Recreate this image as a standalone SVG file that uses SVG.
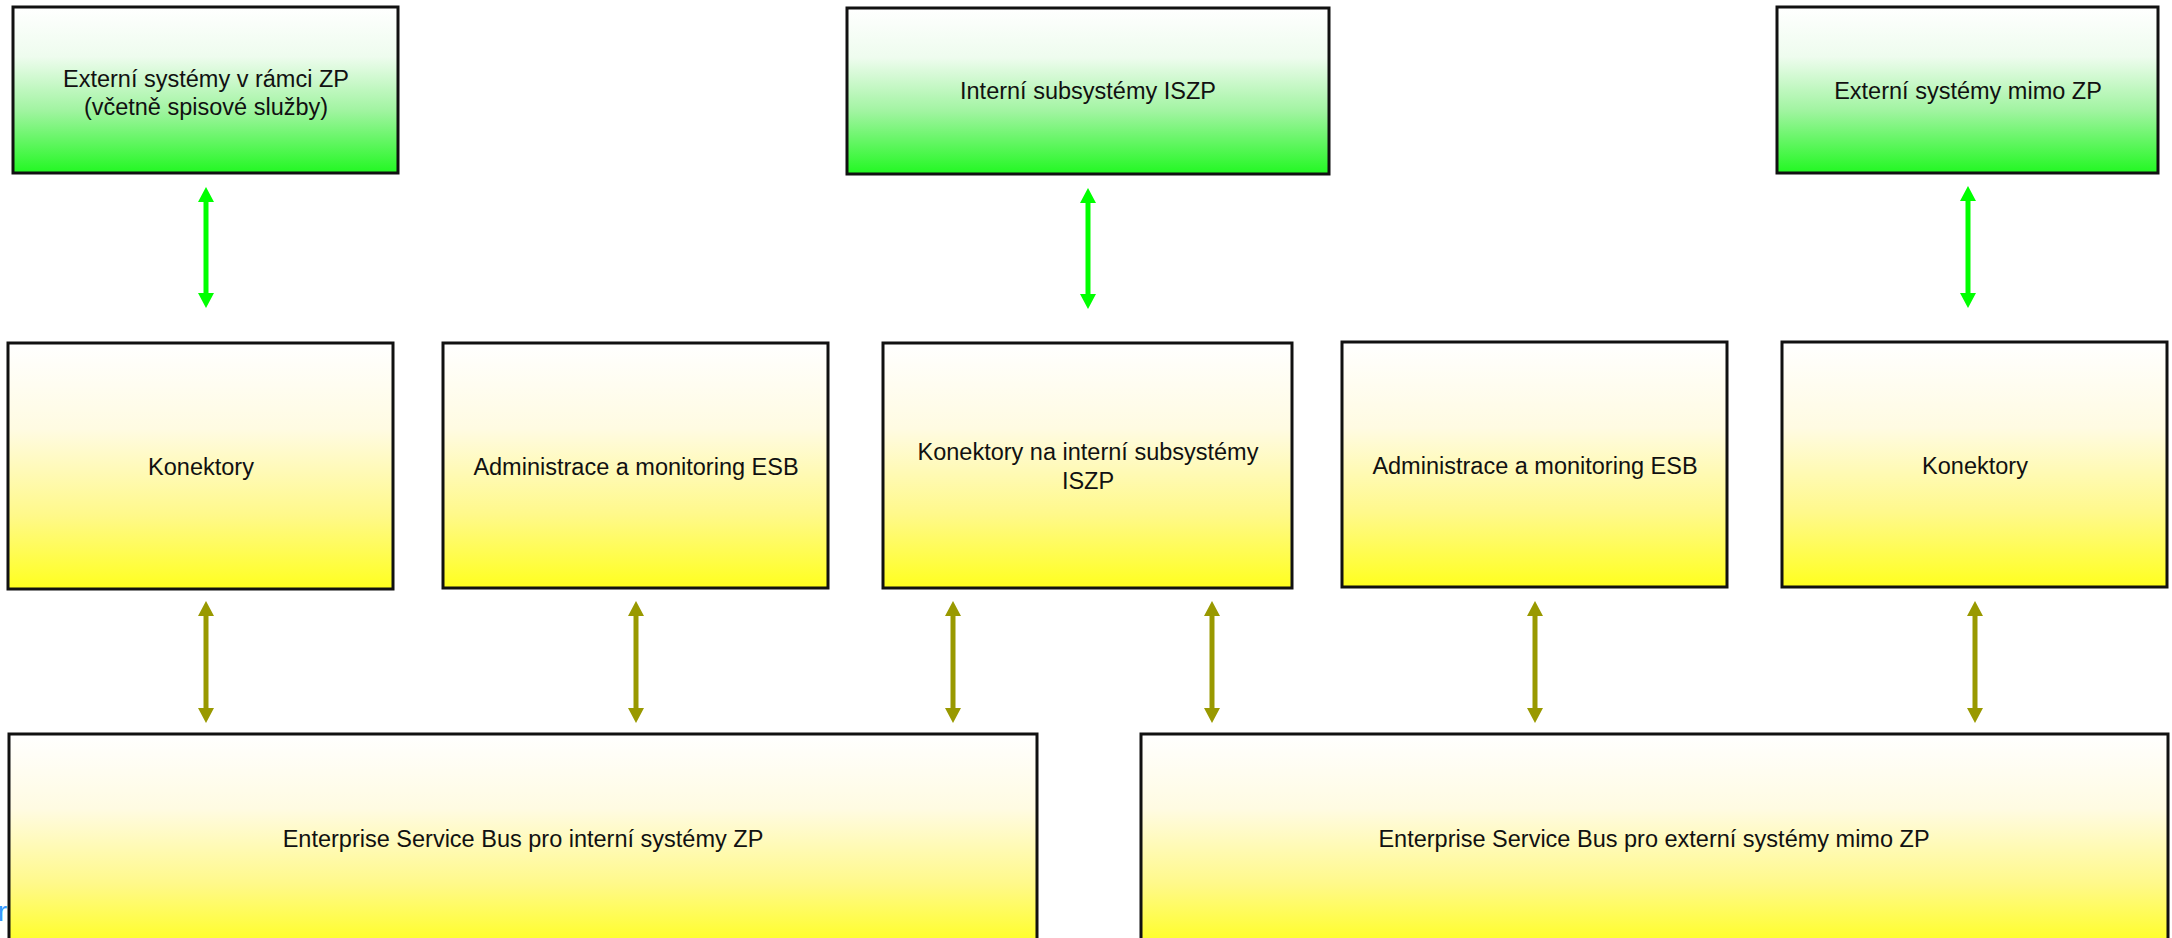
<svg xmlns="http://www.w3.org/2000/svg" width="2172" height="938" viewBox="0 0 2172 938">
<style>
  .box { stroke: #111; stroke-width: 3; }
  .g { fill: url(#gradGreen); }
  .y { fill: url(#gradYellow); }
  .lbl { font-family: "Liberation Sans", Arial, sans-serif; font-size: 23.5px; fill: #111; text-anchor: middle; }
  .cg { stroke: #00ff00; stroke-width: 5; fill: none; marker-start: url(#headG); marker-end: url(#headG); }
  .co { stroke: #999900; stroke-width: 5; fill: none; marker-start: url(#headO); marker-end: url(#headO); }
</style>
<defs>
  <linearGradient id="gradGreen" x1="0" y1="0" x2="0" y2="1">
    <stop offset="0" stop-color="#ffffff"/>
    <stop offset="0.3" stop-color="#eefcee"/>
    <stop offset="0.62" stop-color="#a2f4a2"/>
    <stop offset="1" stop-color="#22f822"/>
  </linearGradient>
  <linearGradient id="gradYellow" x1="0" y1="0" x2="0" y2="1">
    <stop offset="0" stop-color="#ffffff"/>
    <stop offset="0.35" stop-color="#fffbe2"/>
    <stop offset="0.7" stop-color="#fff98a"/>
    <stop offset="1" stop-color="#ffff1e"/>
  </linearGradient>
  <marker id="headG" markerUnits="userSpaceOnUse" markerWidth="16" markerHeight="16" refX="1" refY="8" orient="auto-start-reverse" viewBox="0 0 16 16">
    <path d="M0,0 L15,8 L0,16 Z" fill="#00ff00"/>
  </marker>
  <marker id="headO" markerUnits="userSpaceOnUse" markerWidth="16" markerHeight="16" refX="1" refY="8" orient="auto-start-reverse" viewBox="0 0 16 16">
    <path d="M0,0 L15,8 L0,16 Z" fill="#999900"/>
  </marker>
</defs>
<rect width="2172" height="938" fill="#ffffff"/>

<g id="connectors">
  <line class="cg" x1="206" y1="201" x2="206" y2="294"/>
  <line class="cg" x1="1088" y1="202" x2="1088" y2="295"/>
  <line class="cg" x1="1968" y1="200" x2="1968" y2="294"/>
  <line class="co" x1="206" y1="615" x2="206" y2="709"/>
  <line class="co" x1="636" y1="615" x2="636" y2="709"/>
  <line class="co" x1="953" y1="615" x2="953" y2="709"/>
  <line class="co" x1="1212" y1="615" x2="1212" y2="709"/>
  <line class="co" x1="1535" y1="615" x2="1535" y2="709"/>
  <line class="co" x1="1975" y1="615" x2="1975" y2="709"/>
</g>

<g id="ext-zp">
  <rect class="box g" x="13" y="7" width="385" height="166"/>
  <text class="lbl" x="206" y="87">Externí systémy v rámci ZP</text>
  <text class="lbl" x="206" y="115">(včetně spisové služby)</text>
</g>
<g id="int-iszp">
  <rect class="box g" x="847" y="8" width="482" height="166"/>
  <text class="lbl" x="1088" y="99">Interní subsystémy ISZP</text>
</g>
<g id="ext-mimo">
  <rect class="box g" x="1777" y="7" width="381" height="166"/>
  <text class="lbl" x="1968" y="99">Externí systémy mimo ZP</text>
</g>

<g id="kon-1">
  <rect class="box y" x="8" y="343" width="385" height="246"/>
  <text class="lbl" x="201" y="475">Konektory</text>
</g>
<g id="adm-1">
  <rect class="box y" x="443" y="343" width="385" height="245"/>
  <text class="lbl" x="636" y="475">Administrace a monitoring ESB</text>
</g>
<g id="kon-iszp">
  <rect class="box y" x="883" y="343" width="409" height="245"/>
  <text class="lbl" x="1088" y="460">Konektory na interní subsystémy</text>
  <text class="lbl" x="1088" y="489">ISZP</text>
</g>
<g id="adm-2">
  <rect class="box y" x="1342" y="342" width="385" height="245"/>
  <text class="lbl" x="1535" y="474">Administrace a monitoring ESB</text>
</g>
<g id="kon-2">
  <rect class="box y" x="1782" y="342" width="385" height="245"/>
  <text class="lbl" x="1975" y="474">Konektory</text>
</g>

<g id="esb-int">
  <rect class="box y" x="9" y="734" width="1028" height="214"/>
  <text class="lbl" x="523" y="847">Enterprise Service Bus pro interní systémy ZP</text>
</g>
<g id="esb-ext">
  <rect class="box y" x="1141" y="734" width="1027" height="214"/>
  <text class="lbl" x="1654" y="847">Enterprise Service Bus pro externí systémy mimo ZP</text>
</g>

<text x="7" y="921" font-family="Liberation Sans, Arial, sans-serif" font-size="28" fill="#3399ff" text-anchor="end">r</text>
</svg>
